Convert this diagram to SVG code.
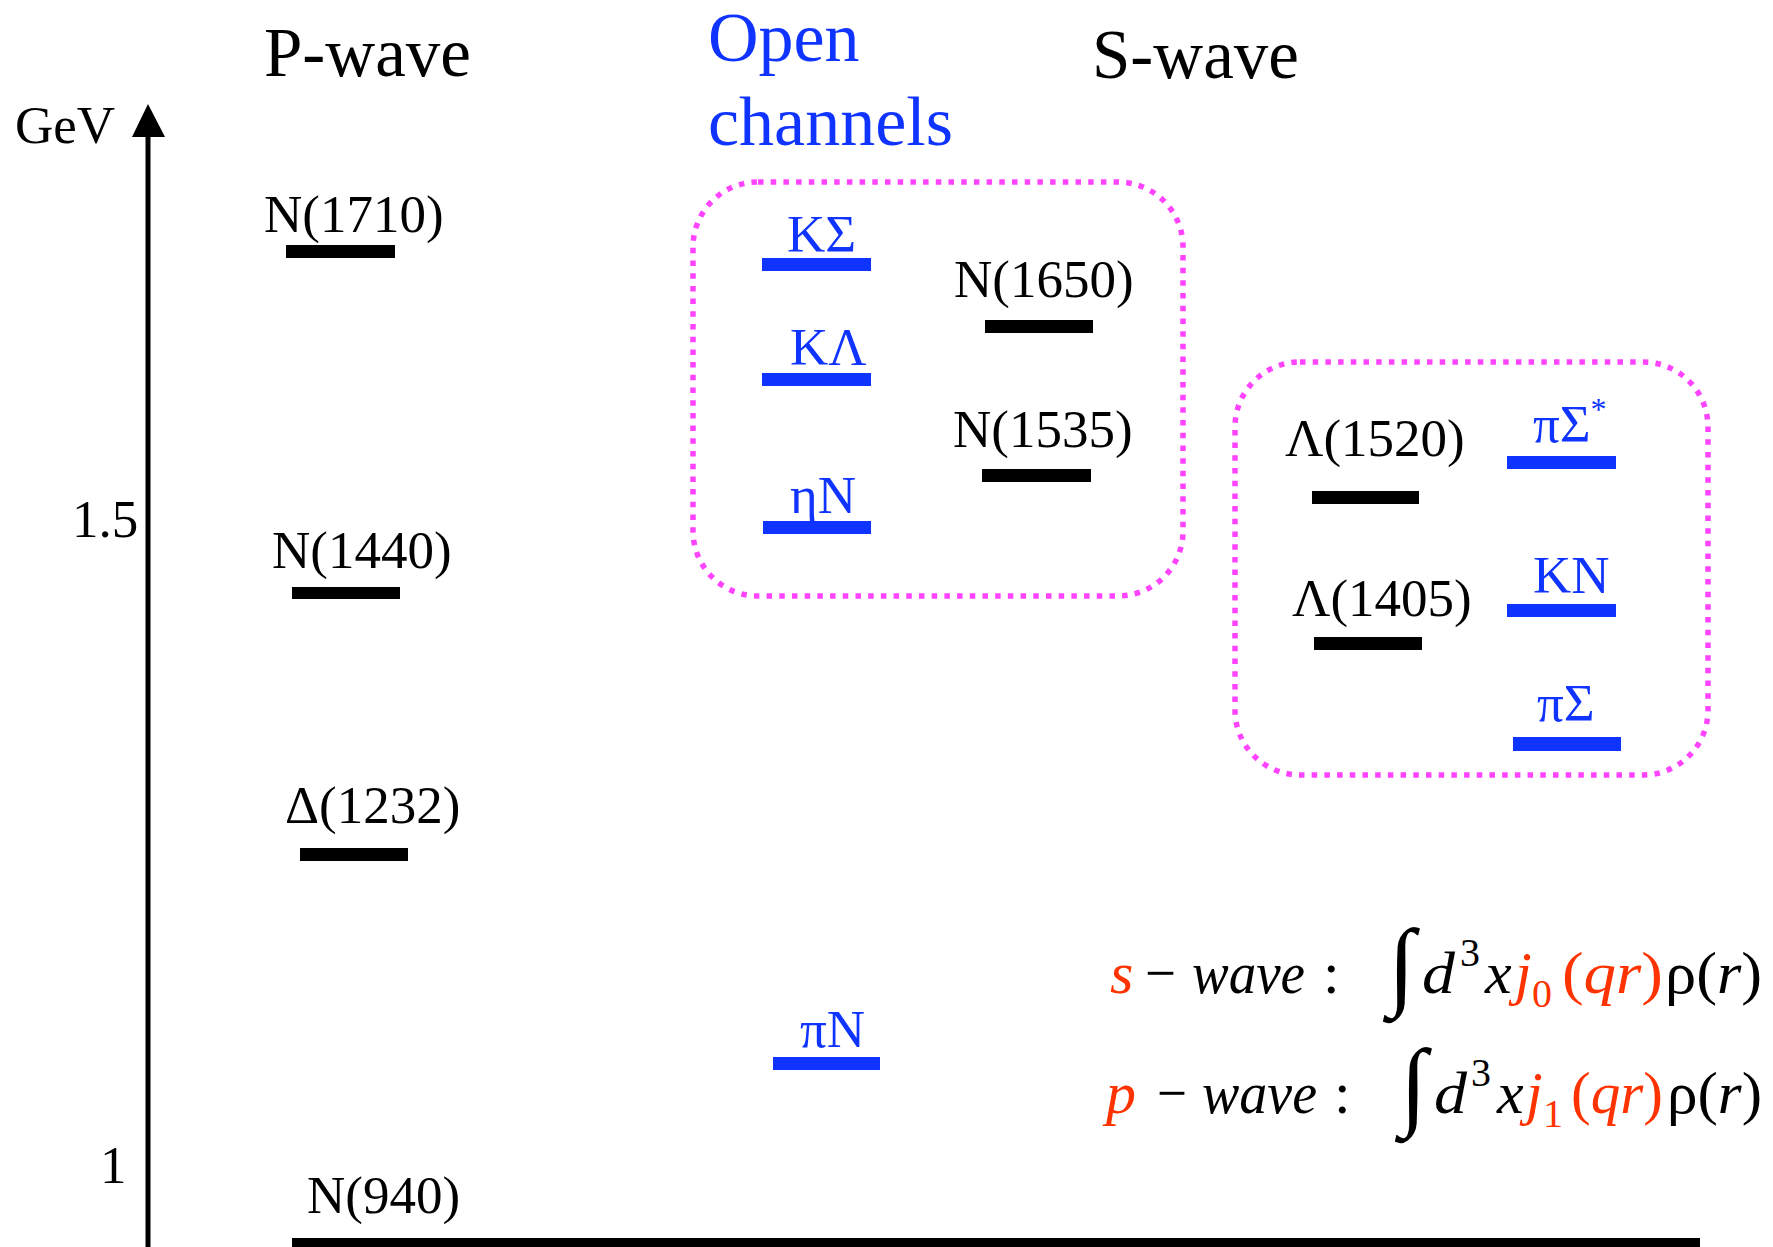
<svg xmlns="http://www.w3.org/2000/svg" width="1773" height="1247" viewBox="0 0 1773 1247">
<style>
text{font-family:"Liberation Serif","Times New Roman",serif;}
.lbl{font-size:53px;fill:#000;}
.blu{font-size:53px;fill:#1034ff;}
.hdr{font-size:69px;fill:#000;}
.open{font-size:70px;fill:#1034ff;}
.bk{fill:#000;}
.bb{fill:#1034ff;}
.box{fill:none;stroke:#ff44ff;stroke-width:5.5;stroke-dasharray:5.5 7.2;}
.f{font-size:60px;}
.it{font-style:italic;}
.red{fill:#ff3300;}
.blk{fill:#000;}
.sup{font-size:40px;}
.int{font-size:98px;}
</style>
<rect width="1773" height="1247" fill="#fff"/>

<g id="headers">
<text class="hdr" x="264" y="76">P-wave</text>
<text class="hdr" x="1092" y="78">S-wave</text>
<text class="open" x="708" y="61">Open</text>
<text class="open" x="708" y="145">channels</text>
</g>

<g id="axis">
<line x1="148" y1="134" x2="148" y2="1247" stroke="#000" stroke-width="5"/>
<polygon points="148,104 132,137 165,137" fill="#000"/>
<text class="lbl" x="15" y="143" font-size="52">GeV</text>
<text class="lbl" x="72" y="537" font-size="50">1.5</text>
<text class="lbl" x="100" y="1183" font-size="50">1</text>
</g>

<g id="boxes">
<rect id="box-nucleon" class="box" x="693" y="182" width="490" height="414" rx="65" ry="65"/>
<rect id="box-lambda" class="box" x="1235" y="362" width="473" height="413" rx="65" ry="65"/>
</g>

<g id="n1710"><text class="lbl" x="264" y="232">N(1710)</text><rect class="bk" x="286" y="245" width="109" height="13"/></g>
<g id="n1440"><text class="lbl" x="272" y="568">N(1440)</text><rect class="bk" x="292" y="587" width="108" height="12"/></g>
<g id="d1232"><text class="lbl" x="285" y="823">Δ(1232)</text><rect class="bk" x="300" y="848" width="108" height="13"/></g>
<g id="n940"><text class="lbl" x="307" y="1213">N(940)</text><rect class="bk" x="292" y="1238" width="1408" height="12"/></g>

<g id="piN"><text class="blu" x="800" y="1047">πN</text><rect class="bb" x="773" y="1057" width="107" height="13"/></g>
<g id="KSigma"><text class="blu" x="787" y="252">ΚΣ</text><rect class="bb" x="762" y="258" width="109" height="13"/></g>
<g id="KLambda"><text class="blu" x="790" y="365">ΚΛ</text><rect class="bb" x="762" y="373" width="109" height="13"/></g>
<g id="etaN"><text class="blu" x="790" y="513">ηN</text><rect class="bb" x="763" y="521" width="108" height="13"/></g>
<g id="n1650"><text class="lbl" x="954" y="297">N(1650)</text><rect class="bk" x="985" y="320" width="108" height="13"/></g>
<g id="n1535"><text class="lbl" x="953" y="447">N(1535)</text><rect class="bk" x="982" y="469" width="109" height="13"/></g>

<g id="l1520"><text class="lbl" x="1285" y="456">Λ(1520)</text><rect class="bk" x="1312" y="491" width="107" height="13"/></g>
<g id="l1405"><text class="lbl" x="1292" y="616">Λ(1405)</text><rect class="bk" x="1314" y="637" width="108" height="13"/></g>
<g id="piSigmaStar"><text class="blu" x="1533" y="442">πΣ<tspan font-size="32" dy="-22">*</tspan></text><rect class="bb" x="1507" y="456" width="109" height="13"/></g>
<g id="KN"><text class="blu" x="1533" y="593">ΚN</text><rect class="bb" x="1507" y="604" width="109" height="13"/></g>
<g id="piSigma"><text class="blu" x="1537" y="721">πΣ</text><rect class="bb" x="1513" y="737" width="108" height="14"/></g>

<g id="formula-s" class="f">
<text class="it red" x="1110" y="993">s</text>
<text class="blk" x="1145" y="993" textLength="31" lengthAdjust="spacingAndGlyphs">−</text>
<text class="it blk" x="1192" y="993" textLength="113" lengthAdjust="spacingAndGlyphs">wave</text>
<text class="blk" x="1323" y="993">:</text>
<text class="int blk" x="1388" y="997">∫</text>
<text class="it blk" x="1422" y="993" textLength="33" lengthAdjust="spacingAndGlyphs">d</text>
<text class="sup blk" x="1460" y="966">3</text>
<text class="it blk" x="1485" y="993">x</text>
<text class="it red" x="1515" y="993">j</text>
<text class="sup red" x="1532" y="1007">0</text>
<text class="red" x="1562" y="993" textLength="101" lengthAdjust="spacingAndGlyphs">(<tspan class="it">qr</tspan>)</text>
<text class="blk" x="1665" y="993" textLength="97" lengthAdjust="spacingAndGlyphs">ρ(<tspan class="it">r</tspan>)</text>
</g>

<g id="formula-p" class="f">
<text class="it red" x="1106" y="1113">p</text>
<text class="blk" x="1157" y="1113" textLength="30" lengthAdjust="spacingAndGlyphs">−</text>
<text class="it blk" x="1202" y="1113" textLength="115" lengthAdjust="spacingAndGlyphs">wave</text>
<text class="blk" x="1334" y="1113">:</text>
<text class="int blk" x="1400" y="1117">∫</text>
<text class="it blk" x="1434" y="1113" textLength="33" lengthAdjust="spacingAndGlyphs">d</text>
<text class="sup blk" x="1471" y="1086">3</text>
<text class="it blk" x="1497" y="1113">x</text>
<text class="it red" x="1526" y="1113">j</text>
<text class="sup red" x="1543" y="1127">1</text>
<text class="red" x="1571" y="1113" textLength="92" lengthAdjust="spacingAndGlyphs">(<tspan class="it">qr</tspan>)</text>
<text class="blk" x="1667" y="1113" textLength="95" lengthAdjust="spacingAndGlyphs">ρ(<tspan class="it">r</tspan>)</text>
</g>
</svg>
